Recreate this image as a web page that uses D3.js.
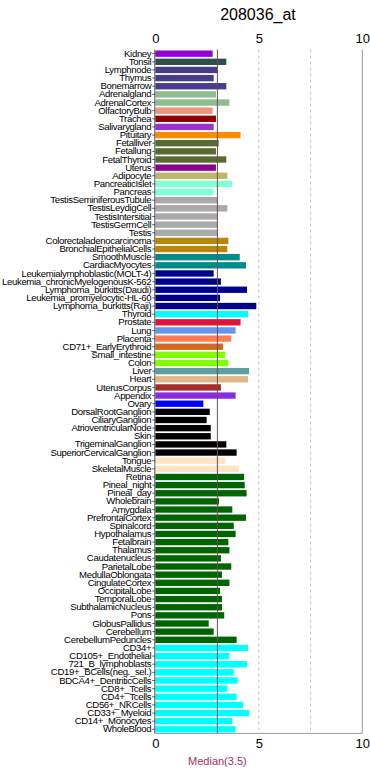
<!DOCTYPE html>
<html>
<head>
<meta charset="utf-8">
<script src="https://cdn.jsdelivr.net/npm/d3@7"></script>
<style>
  body { margin: 0; background: #fff; }
  svg { display: block; font-family: "Liberation Sans", Arial, sans-serif; }
</style>
</head>
<body>
<svg id="visualization" width="370" height="772"></svg>
<script>
const title = "208036_at";

const tissues = [
    "Kidney", "Tonsil", "Lymphnode", "Thymus", "Bonemarrow", "Adrenalgland", "AdrenalCortex",
    "OlfactoryBulb", "Trachea", "Salivarygland", "Pituitary", "Fetalliver", "Fetallung",
    "FetalThyroid", "Uterus", "Adipocyte", "PancreaticIslet", "Pancreas",
    "TestisSeminiferousTubule", "TestisLeydigCell", "TestisIntersitial", "TestisGermCell",
    "Testis", "Colorectaladenocarcinoma", "BronchialEpithelialCells", "SmoothMuscle",
    "CardiacMyocytes", "Leukemialymphoblastic(MOLT-4)", "Leukemia_chronicMyelogenousK-562",
    "Lymphoma_burkitts(Daudi)", "Leukemia_promyelocytic-HL-60", "Lymphoma_burkitts(Raji)",
    "Thyroid", "Prostate", "Lung", "Placenta", "CD71+_EarlyErythroid", "Small_intestine",
    "Colon", "Liver", "Heart", "UterusCorpus", "Appendix", "Ovary", "DorsalRootGanglion",
    "CiliaryGanglion", "AtrioventricularNode", "Skin", "TrigeminalGanglion",
    "SuperiorCervicalGanglion", "Tongue", "SkeletalMuscle", "Retina", "Pineal_night",
    "Pineal_day", "Wholebrain", "Amygdala", "PrefrontalCortex", "Spinalcord", "Hypothalamus",
    "Fetalbrain", "Thalamus", "Caudatenucleus", "ParietalLobe", "MedullaOblongata",
    "CingulateCortex", "OccipitalLobe", "TemporalLobe", "SubthalamicNucleus", "Pons",
    "GlobusPallidus", "Cerebellum", "CerebellumPeduncles", "CD34+", "CD105+_Endothelial",
    "721_B_lymphoblasts", "CD19+_BCells(neg._sel.)", "BDCA4+_DentriticCells", "CD8+_Tcells",
    "CD4+_Tcells", "CD56+_NKCells", "CD33+_Myeloid", "CD14+_Monocytes", "WholeBlood"
];

const values = [
    2.77, 3.43, 3.01, 2.82, 3.43, 2.93, 3.58,
    2.77, 2.93, 2.82, 4.12, 3.06, 2.93,
    3.43, 2.93, 3.48, 3.72, 2.82,
    3.0, 3.48, 3.0, 3.0,
    3.0, 3.53, 3.48, 4.08,
    4.38, 2.82, 3.17,
    4.43, 3.13, 4.88,
    4.48, 4.12, 3.88, 3.67, 3.27, 3.38,
    3.53, 4.53, 4.48, 3.17, 3.88, 2.32, 2.63,
    2.48, 2.68, 2.68, 3.43,
    3.93, 3.38, 4.03, 4.29, 4.32,
    4.41, 3.08, 3.72, 4.38, 3.79, 3.88,
    3.53, 3.58, 3.17, 3.67, 3.22,
    3.58, 3.13, 3.22, 3.22, 3.33,
    2.58, 2.82, 3.93, 4.48, 3.58,
    4.43, 3.79, 3.98, 3.48,
    3.93, 4.24, 4.53, 3.72, 3.88
];

const colors = [
    "#9400d3", "#2f4f4f", "#483d8b", "#483d8b", "#483d8b", "#8fbc8f", "#8fbc8f",
    "#e9967a", "#8b0000", "#9932cc", "#ff8c00", "#556b2f", "#556b2f",
    "#556b2f", "#8b008b", "#bdb76b", "#7fffd4", "#7fffd4",
    "#a9a9a9", "#a9a9a9", "#a9a9a9", "#a9a9a9",
    "#a9a9a9", "#b8860b", "#b8860b", "#008b8b",
    "#008b8b", "#00008b", "#00008b",
    "#00008b", "#00008b", "#00008b",
    "#00ffff", "#dc143c", "#6495ed", "#ff7f50", "#d2691e", "#7fff00",
    "#7fff00", "#5f9ea0", "#deb887", "#a52a2a", "#8a2be2", "#0000ff", "#000000",
    "#000000", "#000000", "#000000", "#000000",
    "#000000", "#ffe4c4", "#ffe4c4", "#006400", "#006400",
    "#006400", "#006400", "#006400", "#006400", "#006400", "#006400",
    "#006400", "#006400", "#006400", "#006400", "#006400",
    "#006400", "#006400", "#006400", "#006400", "#006400",
    "#006400", "#006400", "#006400", "#00ffff", "#00ffff",
    "#00ffff", "#00ffff", "#00ffff", "#00ffff",
    "#00ffff", "#00ffff", "#00ffff", "#00ffff", "#00ffff"
];

const xTicks = [0, 5, 10];
const gridLines = [5, 7.5];
const medianLine = 3.0;
const medianLabel = "Median(3.5)";

const renderVisualization = () => {
    const svg = d3.select("#visualization");

    const margin = { top: 49.6, right: 8, bottom: 38.6, left: 155.3 };
    const height = 772 - margin.top - margin.bottom;

    const data = tissues.map((t, i) => ({ name: t, value: values[i], color: colors[i] }));

    const xScale = d3.scaleLinear().domain([0, 10]).range([0, 207]);
    const yScale = d3.scaleBand().domain(tissues).range([0, height]).paddingInner(0.22).paddingOuter(0.11);

    const chartArea = svg.append("g")
        .attr("transform", `translate(${margin.left}, ${margin.top})`);

    // title
    svg.append("text")
        .attr("x", 258)
        .attr("y", 20)
        .attr("text-anchor", "middle")
        .attr("font-size", 16)
        .attr("fill", "#000")
        .text(title);

    // dashed grid
    chartArea.selectAll("line.grid")
        .data(gridLines)
        .join("line")
        .attr("class", "grid")
        .attr("x1", d => xScale(d))
        .attr("x2", d => xScale(d))
        .attr("y1", 0)
        .attr("y2", height)
        .attr("stroke", "#c8c8c8")
        .attr("stroke-width", 1)
        .attr("stroke-dasharray", "3,3");

    // bars
    chartArea.selectAll("rect")
        .data(data)
        .join("rect")
        .attr("x", 0)
        .attr("y", d => yScale(d.name))
        .attr("width", d => xScale(d.value))
        .attr("height", yScale.bandwidth())
        .attr("fill", d => d.color);

    // median line
    chartArea.append("line")
        .attr("x1", xScale(medianLine))
        .attr("x2", xScale(medianLine))
        .attr("y1", 0)
        .attr("y2", height)
        .attr("stroke", "#6b5050")
        .attr("stroke-width", 1);

    // frame: left, right border and bottom line
    chartArea.append("line")
        .attr("x1", -0.5).attr("x2", -0.5)
        .attr("y1", 0).attr("y2", height)
        .attr("stroke", "#555").attr("stroke-width", 1);
    chartArea.append("line")
        .attr("x1", xScale(10)).attr("x2", xScale(10))
        .attr("y1", 0).attr("y2", height)
        .attr("stroke", "#999").attr("stroke-width", 1);
    chartArea.append("line")
        .attr("x1", 0).attr("x2", xScale(10))
        .attr("y1", height).attr("y2", height)
        .attr("stroke", "#999").attr("stroke-width", 1);

    // y axis labels with small ticks
    const yAxis = d3.axisLeft(yScale).tickSize(3).tickPadding(1);
    const yg = chartArea.append("g").call(yAxis);
    yg.select(".domain").remove();
    yg.selectAll(".tick line").attr("stroke", "#555");
    yg.selectAll(".tick text")
        .attr("font-size", 9.6)
        .attr("letter-spacing", -0.35)
        .attr("font-family", '"Liberation Sans", Arial, sans-serif')
        .attr("fill", "#000");

    // top and bottom tick labels
    const xAxisTop = d3.axisTop(xScale).tickValues(xTicks).tickSize(0).tickPadding(7);
    const xt = chartArea.append("g").call(xAxisTop);
    xt.select(".domain").remove();
    xt.selectAll(".tick text").attr("font-size", 13).attr("fill", "#000")
        .attr("font-family", '"Liberation Sans", Arial, sans-serif');

    const xAxisBottom = d3.axisBottom(xScale).tickValues(xTicks).tickSize(0).tickPadding(5);
    const xb = chartArea.append("g").attr("transform", `translate(0, ${height})`).call(xAxisBottom);
    xb.select(".domain").remove();
    xb.selectAll(".tick text").attr("font-size", 13).attr("fill", "#000")
        .attr("font-family", '"Liberation Sans", Arial, sans-serif');

    // median label
    chartArea.append("text")
        .attr("x", xScale(medianLine))
        .attr("y", height + 32)
        .attr("text-anchor", "middle")
        .attr("font-size", 11)
        .attr("fill", "#993366")
        .text(medianLabel);
};

renderVisualization();
</script>
</body>
</html>
